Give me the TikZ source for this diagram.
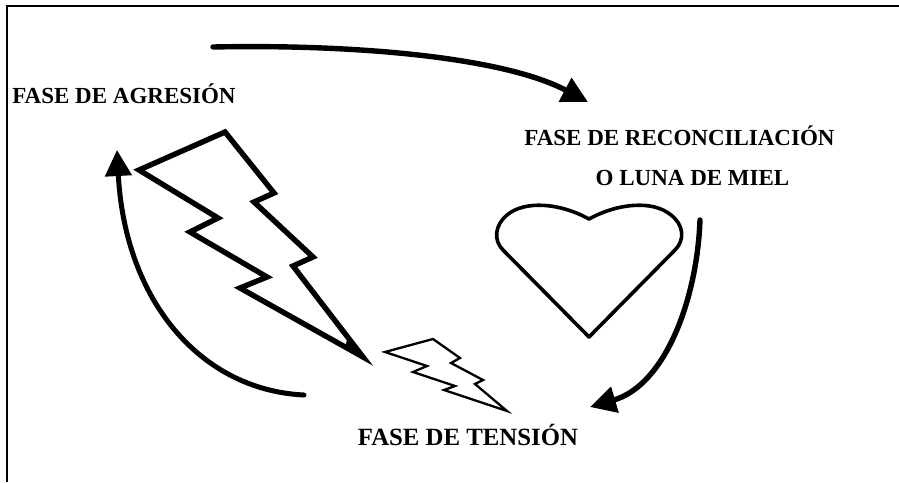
\documentclass[tikz,border=0pt]{standalone}
\usepackage{fontspec}
\setmainfont{Liberation Serif}
\usetikzlibrary{arrows.meta,positioning}
\tikzstyle{phase} = [font=\bfseries\fontsize{23}{26}\selectfont, inner sep=0pt, anchor=base]
\tikzstyle{bolt} = [draw, line join=miter, miter limit=20]
\tikzstyle{flow} = [draw, line cap=round, line width=5.4pt]
\tikzstyle{frame} = [draw, line width=2pt]

\begin{document}
\begin{tikzpicture}[x=1pt, y=-1pt, >={Triangle[length=26pt,width=26pt]}]
    \useasboundingbox (0,0) rectangle (899,482);
    % We start by placing the labels
    \node [phase] (agresion) at (124,103) {FASE DE AGRESIÓN};
    \node [phase] (reconciliacion) at (679.5,145) {FASE DE RECONCILIACIÓN};
    \node [phase] (luna) at (692.5,185) {O LUNA DE MIEL};
    \node [phase, font=\bfseries\fontsize{24.8}{28}\selectfont] (tension) at (468,445) {FASE DE TENSIÓN};
    % Free ends of the arrows
    \coordinate (topa) at (213,47);
    \coordinate (topb) at (588,102);
    \coordinate (righta) at (700,220);
    \coordinate (rightb) at (590,407);
    \coordinate (lefta) at (304,395);
    \coordinate (leftb) at (117,150);
    % Page border
    \draw [frame] (7,482) -- (7,6) -- (899,6);
    % The shapes
    \draw [bolt, line width=5.4pt] (225,132) -- (139,170) -- (218,218) -- (190,232) -- (267,277)
        -- (240,288) -- (363,357) -- (293,266) -- (313,257) -- (254,202) -- (274,193) -- cycle;
    \fill (347,340) -- (354,345) -- (362,356) -- (345,347) -- cycle;
    \draw [bolt, line width=2.3pt] (385,352) -- (433,339) -- (460,358) -- (451,363) -- (483,380)
        -- (475,384) -- (507,411) -- (444,390) -- (455,386) -- (413,372) -- (427,366) -- cycle;
    \draw [line width=3.6pt, line join=round] (589,337) -- (503,250)
        .. controls (493,240) and (495,225) .. (507,215)
        .. controls (525,200) and (560,203) .. (589,219)
        .. controls (618,203) and (653,200) .. (671,215)
        .. controls (684,225) and (685,240) .. (675,250) -- cycle;
    % Once the nodes are placed, connecting them is easy.
    \draw [flow, ->] (topa) .. controls (360,44) and (505,58) .. (topb);
    \draw [flow, ->] (righta) .. controls (697,300) and (665,385) .. (rightb);
    \draw [flow, line width=5pt, ->] (lefta) .. controls (200,390) and (125,300) .. (leftb);
\end{tikzpicture}
\end{document}
